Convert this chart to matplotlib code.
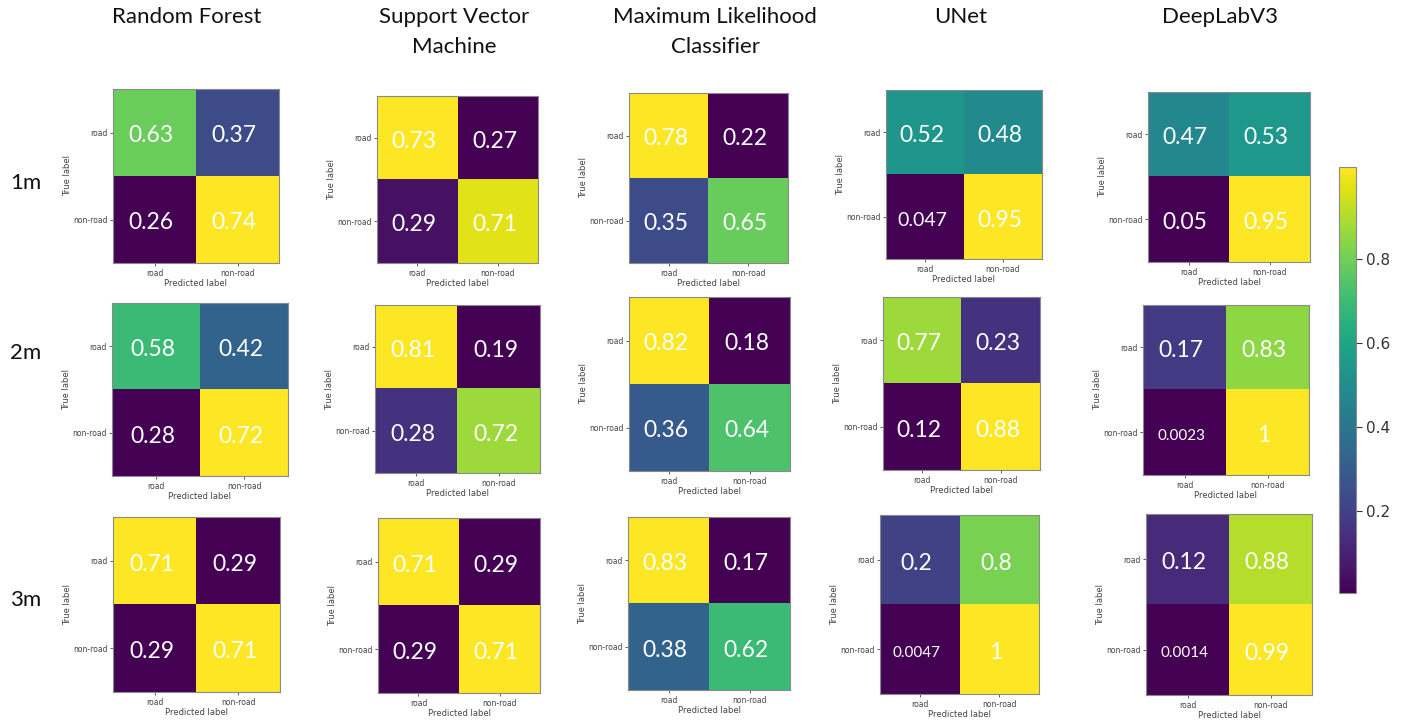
import numpy as np
import matplotlib
matplotlib.use("Agg")
import matplotlib.pyplot as plt
from matplotlib.colors import Normalize
from matplotlib.cm import ScalarMappable

# ---------------- data ----------------
models = ["Random Forest", "Support Vector\nMachine", "Maximum Likelihood\nClassifier", "UNet", "DeepLabV3"]
resolutions = ["1m", "2m", "3m"]
classes = ["road", "non-road"]

rf = [[[0.63, 0.37], [0.26, 0.74]],
      [[0.58, 0.42], [0.28, 0.72]],
      [[0.71, 0.29], [0.29, 0.71]]]
svm = [[[0.73, 0.27], [0.29, 0.71]],
       [[0.81, 0.19], [0.28, 0.72]],
       [[0.71, 0.29], [0.29, 0.71]]]
mlc = [[[0.78, 0.22], [0.35, 0.65]],
       [[0.82, 0.18], [0.36, 0.64]],
       [[0.83, 0.17], [0.38, 0.62]]]
unet = [[[0.52, 0.48], [0.047, 0.95]],
        [[0.77, 0.23], [0.12, 0.88]],
        [[0.2, 0.8], [0.0047, 1.0]]]
deeplab = [[[0.47, 0.53], [0.05, 0.95]],
           [[0.17, 0.83], [0.0023, 1.0]],
           [[0.12, 0.88], [0.0014, 0.99]]]
cbar_ticks = [0.2, 0.4, 0.6, 0.8]

all_models = [rf, svm, mlc, unet, deeplab]

# ---------------- layout (pixels) ----------------
W, H = 1402, 725
panel_boxes = [
    [(113, 89, 279, 263), (377, 96, 538, 263), (629, 93, 788, 263), (886, 90, 1042, 259), (1148, 92, 1310, 262)],
    [(112, 303, 288, 476), (375, 305, 540, 473), (629, 297, 790, 471), (883, 297, 1040, 470), (1143, 305, 1309, 475)],
    [(113, 517, 280, 692), (378, 518, 540, 693), (628, 517, 790, 690), (880, 515, 1039, 694), (1146, 514, 1312, 695)],
]
title_x = [187, 454, 715, 961, 1220]
title_y = [17, 47]
row_label_x = 26
row_label_y = [183, 353, 600]
cbar_box = (1339, 167, 1356, 593)


def rect(x0, y0, x1, y1):
    return [x0 / W, 1 - y1 / H, (x1 - x0) / W, (y1 - y0) / H]


fig = plt.figure(figsize=(W / 100, H / 100), dpi=100)
fig.patch.set_facecolor("white")

title_font = "Lato"
spine_col = "#8a8a8a"
small_col = "#444444"

for r, res in enumerate(resolutions):
    for c, model in enumerate(all_models):
        m = np.array(model[r])
        ax = fig.add_axes(rect(*panel_boxes[r][c]))
        ax.imshow(m, cmap="viridis", vmin=m.min(), vmax=m.max(),
                  aspect="auto", interpolation="nearest")
        for i in range(2):
            for j in range(2):
                lab = f"{m[i, j]:.2g}"
                n = len(lab)
                fs = 16.5 if n <= 4 else (14 if n == 5 else 11)
                ax.text(j - 0.04, i + 0.04, lab, ha="center", va="center",
                        color="white", fontsize=fs, family=title_font)
        ax.set_xticks([0, 1])
        ax.set_yticks([0, 1])
        ax.set_xticklabels(classes, fontsize=5.5, color=small_col)
        ax.set_yticklabels(classes, fontsize=5.5, color=small_col)
        ax.tick_params(length=2.5, width=0.6, color=small_col, pad=1.5)
        ax.set_xlabel("Predicted label", fontsize=6, color=small_col, labelpad=1)
        ax.set_ylabel("True label", fontsize=6, color=small_col, labelpad=1)
        for s in ax.spines.values():
            s.set_color(spine_col)
            s.set_linewidth(0.8)

# column titles
for c, name in enumerate(models):
    for k, line in enumerate(name.split("\n")):
        fig.text(title_x[c] / W, 1 - title_y[k] / H, line, ha="center", va="center",
                 fontsize=16, family=title_font, color="#111111")

# row labels
for r, res in enumerate(resolutions):
    fig.text(row_label_x / W, 1 - row_label_y[r] / H, res, ha="center", va="center",
             fontsize=16, family=title_font, color="#111111")

# colorbar
cax = fig.add_axes(rect(*cbar_box))
sm = ScalarMappable(norm=Normalize(vmin=0.005, vmax=1.02), cmap="viridis")
cb = fig.colorbar(sm, cax=cax, ticks=cbar_ticks)
cb.ax.tick_params(labelsize=11, length=4, width=0.8, color="#333333", labelcolor="#333333")
cb.ax.set_yticklabels([f"{t:.1f}" for t in cbar_ticks])
cb.outline.set_edgecolor(spine_col)
cb.outline.set_linewidth(0.8)

fig.savefig("out.png", dpi=100, facecolor="white")
